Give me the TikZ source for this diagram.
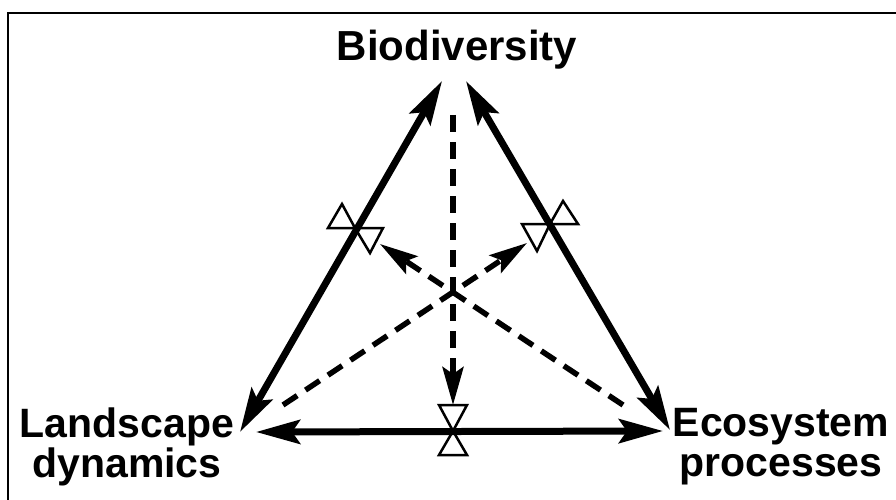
\documentclass[tikz,border=0pt]{standalone}
\usepackage{fontspec}
\setmainfont{Liberation Sans}
\usetikzlibrary{arrows.meta}
\begin{document}
\begin{tikzpicture}[x=1pt,y=-1pt,
  lbl/.style={font=\fontsize{42}{40}\selectfont\bfseries, inner sep=0pt, align=center},
  lblsm/.style={lbl, font=\fontsize{41}{40}\selectfont\bfseries},
  solidarrow/.style={line width=7pt, {Stealth[length=44pt,width=24pt,inset=8pt]}-{Stealth[length=44pt,width=24pt,inset=8pt]}},
  dasharrow/.style={line width=5.5pt, dash pattern=on 17pt off 10pt, -{Stealth[length=38pt,width=21pt,inset=7pt]}},
  marker/.style={line width=2.5pt, line join=miter}]
\useasboundingbox (0,0) rectangle (896,500);
% frame
\draw[line width=2.5pt] (8,500) -- (8,13) -- (896,13);
% labels
\node[lbl, anchor=base] (bio) at (457,61) {Biodiversity};
\node[lblsm, anchor=north] (land) at (127,408) {Landscape\\dynamics};
\node[lblsm, anchor=north] (eco) at (781,408) {Ecosystem\\processes};
% arrow end points
\coordinate (Ltop) at (442,81);
\coordinate (Lbot) at (240,432);
\coordinate (Rtop) at (466,81);
\coordinate (Rbot) at (670,430);
\coordinate (Bl) at (256,432);
\coordinate (Br) at (663,431);
\coordinate (Vs) at (453,115);
\coordinate (Ve) at (453,405);
\coordinate (D1s) at (283,405);
\coordinate (D1e) at (527,243);
\coordinate (D2s) at (623,405);
\coordinate (D2e) at (380,244);
% solid arrows
\draw[solidarrow] (Ltop) -- (Lbot);
\draw[solidarrow] (Rtop) -- (Rbot);
\draw[solidarrow] (Bl) -- (Br);
% dashed arrows
\draw[dasharrow] (Vs) -- (Ve);
\draw[dasharrow] (D1s) -- (D1e);
\draw[dasharrow] (D2s) -- (D2e);
% markers
\draw[marker] (328,228) -- (342,204) -- (355,228) -- cycle;
\draw[marker] (355,228) -- (383,228) -- (370,253) -- cycle;
\draw[marker] (522,224) -- (550,224) -- (537,251) -- cycle;
\draw[marker] (550,224) -- (578,224) -- (563,201) -- cycle;
\draw[marker] (439,405) -- (467,405) -- (453,431) -- cycle;
\draw[marker] (453,431) -- (439,455) -- (467,455) -- cycle;
\end{tikzpicture}
\end{document}
